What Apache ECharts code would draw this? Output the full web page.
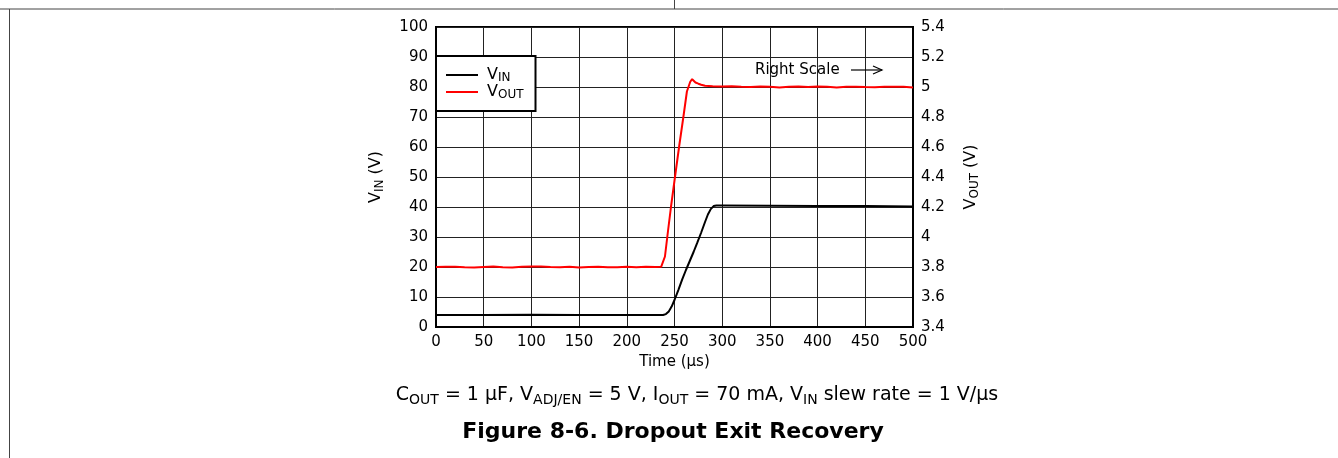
<!DOCTYPE html>
<html>
<head>
<meta charset="utf-8">
<script src="https://cdn.jsdelivr.net/npm/echarts@6/dist/echarts.min.js"></script>
<style>
html,body{margin:0;padding:0;background:#fff;}
#chart{width:1338px;height:458px;}
</style>
</head>
<body>
<div id="chart"></div>
<script>
// ---- data ----
var xTicks = [0, 50, 100, 150, 200, 250, 300, 350, 400, 450, 500];
var leftTicks = [0, 10, 20, 30, 40, 50, 60, 70, 80, 90, 100];
var rightTicks = [3.4, 3.6, 3.8, 4, 4.2, 4.4, 4.6, 4.8, 5, 5.2, 5.4];

var vinTime = [0, 25, 50, 100, 150, 200, 238, 241, 244, 247, 250, 254, 258, 262, 266, 270, 274, 278, 282, 285, 288, 291, 294, 300, 350, 400, 450, 500];
var vinVolt = [4.0, 4.0, 4.0, 4.05, 4.0, 4.0, 4.0, 4.3, 5.2, 6.8, 9.0, 12.3, 15.8, 19.0, 22.0, 25.0, 28.2, 31.5, 35.0, 37.5, 39.3, 40.3, 40.5, 40.5, 40.45, 40.35, 40.3, 40.2];

var voutTime = [0, 10, 20, 30, 40, 50, 60, 70, 80, 90, 100, 110, 120, 130, 140, 150, 160, 170, 180, 190, 200, 210, 220, 230, 236, 238, 240, 243, 246.3, 250.5, 255, 259.3, 263, 266.5, 268.5, 270, 272, 275, 278, 282, 290, 300, 310, 320, 330, 340, 350, 360, 370, 380, 390, 400, 410, 420, 430, 440, 450, 460, 470, 480, 490, 500];
var voutVolt = [3.800, 3.802, 3.801, 3.798, 3.796, 3.800, 3.803, 3.798, 3.797, 3.801, 3.804, 3.803, 3.800, 3.799, 3.801, 3.797, 3.800, 3.802, 3.798, 3.799, 3.801, 3.799, 3.802, 3.800, 3.801, 3.805, 3.87, 4.03, 4.20, 4.40, 4.61, 4.80, 4.97, 5.035, 5.052, 5.05, 5.03, 5.022, 5.015, 5.008, 5.005, 5.003, 5.005, 5.002, 5.000, 5.004, 5.001, 4.996, 5.002, 5.003, 5.000, 5.003, 5.002, 4.997, 5.001, 5.002, 5.000, 4.999, 5.002, 5.001, 5.002, 4.997];

function pairs(xs, ys) { return xs.map(function (x, i) { return [x, ys[i]]; }); }

var FONT = '"DejaVu Sans", "Liberation Sans", sans-serif';

function subRich(size, subSize) {
  return {
    m: { fontSize: size, fontFamily: FONT, fontWeight: 'normal', color: '#000', lineHeight: size + 4 },
    s: { fontSize: subSize, fontFamily: FONT, fontWeight: 'normal', color: '#000', lineHeight: 8, verticalAlign: 'bottom' }
  };
}

var chart = echarts.init(document.getElementById('chart'), null, { renderer: 'canvas' });

var option = {
  backgroundColor: '#fff',
  animation: false,
  textStyle: { fontFamily: FONT },
  title: [
    {
      text: '{m|C}{s|OUT}{m| = 1 µF, V}{s|ADJ/EN}{m| = 5 V, I}{s|OUT}{m| = 70 mA, V}{s|IN}{m| slew rate = 1 V/µs}',
      left: 697, top: 384, textAlign: 'center', padding: 0,
      textStyle: {
        fontWeight: 'normal',
        rich: {
          m: { fontSize: 19, fontFamily: FONT, fontWeight: 'normal', color: '#000', lineHeight: 23 },
          s: { fontSize: 14, fontFamily: FONT, fontWeight: 'normal', color: '#000', lineHeight: 10, verticalAlign: 'bottom' }
        }
      }
    },
    {
      text: 'Figure 8-6. Dropout Exit Recovery',
      left: 673, top: 421, textAlign: 'center', padding: 0,
      textStyle: { fontSize: 22, fontWeight: 'bold', fontFamily: FONT, color: '#000' }
    }
  ],
  legend: {
    orient: 'vertical',
    left: 436, top: 56,
    padding: [11, 12, 10, 10],
    icon: 'rect',
    itemWidth: 32, itemHeight: 2, itemGap: 0,
    backgroundColor: '#fff',
    borderColor: '#000', borderWidth: 2, borderRadius: 0,
    selectedMode: false,
    data: ['VIN', 'VOUT'],
    formatter: function (name) {
      return name === 'VIN' ? '{p|}{m|V}{s|IN}' : '{p|}{m|V}{s|OUT}';
    },
    textStyle: {
      rich: {
        p: { width: 4 },
        m: { fontSize: 16, fontFamily: FONT, color: '#000', lineHeight: 18 },
        s: { fontSize: 12, fontFamily: FONT, color: '#000', lineHeight: 7, verticalAlign: 'bottom' }
      }
    }
  },
  grid: {
    left: 436, right: 425, top: 27, bottom: 131,
    show: true, borderColor: '#000', borderWidth: 2, backgroundColor: 'transparent'
  },
  xAxis: {
    type: 'value', min: 0, max: 500, interval: 50,
    name: 'Time (µs)', nameLocation: 'middle', nameGap: 23,
    nameTextStyle: { fontSize: 15, color: '#000', fontFamily: FONT },
    axisLine: { show: true, lineStyle: { color: '#000', width: 2 } },
    axisTick: { show: false },
    axisLabel: { fontSize: 15, color: '#000', margin: 8, fontFamily: FONT,
      formatter: function (v) { return xTicks.indexOf(v) >= 0 ? String(v) : ''; } },
    splitLine: { show: true, lineStyle: { color: '#222', width: 1 } }
  },
  yAxis: [
    {
      type: 'value', min: 0, max: 100, interval: 10, position: 'left',
      name: '{m|V}{s|IN}{m| (V)}', nameLocation: 'middle', nameGap: 50, nameRotate: 90,
      nameTextStyle: { rich: subRich(16, 12) },
      axisLine: { show: true, lineStyle: { color: '#000', width: 2 } },
      axisTick: { show: false },
      axisLabel: { fontSize: 15, color: '#000', margin: 8, fontFamily: FONT,
        formatter: function (v) { return leftTicks.indexOf(v) >= 0 ? String(v) : ''; } },
      splitLine: { show: true, lineStyle: { color: '#222', width: 1 } }
    },
    {
      type: 'value', min: 3.4, max: 5.4, interval: 0.2, position: 'right',
      name: '{m|V}{s|OUT}{m| (V)}', nameLocation: 'middle', nameGap: 48, nameRotate: 90,
      nameTextStyle: { rich: subRich(16, 12) },
      axisLine: { show: true, lineStyle: { color: '#000', width: 2 } },
      axisTick: { show: false },
      axisLabel: { fontSize: 15, color: '#000', margin: 8, fontFamily: FONT,
        formatter: function (v) {
          var r = Math.round(v * 10) / 10;
          return rightTicks.indexOf(r) >= 0 ? String(r) : '';
        } },
      splitLine: { show: false }
    }
  ],
  series: [
    {
      name: 'VIN', type: 'line', yAxisIndex: 0, symbol: 'none', smooth: false,
      lineStyle: { color: '#000', width: 2 }, itemStyle: { color: '#000' },
      data: pairs(vinTime, vinVolt), z: 3
    },
    {
      name: 'VOUT', type: 'line', yAxisIndex: 1, symbol: 'none', smooth: false,
      lineStyle: { color: '#ff0000', width: 2 }, itemStyle: { color: '#ff0000' },
      data: pairs(voutTime, voutVolt), z: 4
    }
  ],
  graphic: [
    { type: 'line', shape: { x1: 0, y1: 9, x2: 1338, y2: 9 }, style: { stroke: '#444', lineWidth: 1 }, silent: true },
    { type: 'line', shape: { x1: 674.5, y1: 0, x2: 674.5, y2: 9 }, style: { stroke: '#444', lineWidth: 1 }, silent: true },
    { type: 'line', shape: { x1: 9.5, y1: 9, x2: 9.5, y2: 458 }, style: { stroke: '#444', lineWidth: 1 }, silent: true },
    { type: 'text', x: 755, y: 70, z: 10,
      style: { text: 'Right Scale', font: '15px ' + FONT, fill: '#000',
        align: 'left', verticalAlign: 'middle', textAlign: 'left', textVerticalAlign: 'middle' } },
    { type: 'line', z: 10, shape: { x1: 851, y1: 70, x2: 882, y2: 70 }, style: { stroke: '#000', lineWidth: 1.2 } },
    { type: 'polyline', z: 10, shape: { points: [[873, 66], [882, 70], [873, 74]] }, style: { stroke: '#000', lineWidth: 1.2, fill: null } }
  ]
};

chart.setOption(option);
</script>
</body>
</html>
